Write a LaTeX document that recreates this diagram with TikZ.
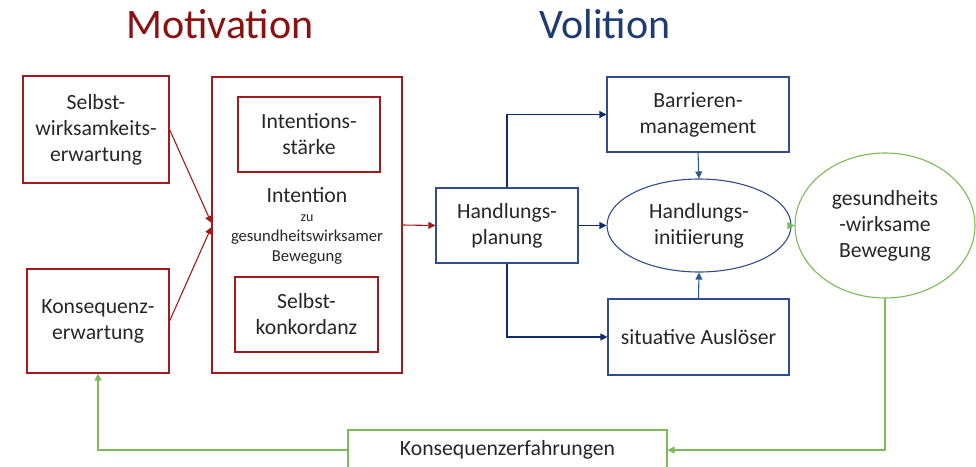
\documentclass[tikz,border=0pt]{standalone}
\usepackage{fontspec}
\setmainfont{Carlito}
\usetikzlibrary{arrows.meta,shapes.geometric}

\definecolor{motred}{HTML}{8B1010}
\definecolor{boxred}{HTML}{A01C1C}
\definecolor{volblue}{HTML}{1F3B73}
\definecolor{boxblue}{HTML}{2F4D8A}
\definecolor{arrblue}{HTML}{0F2C6E}
\definecolor{lightblue}{HTML}{2E5C8A}
\definecolor{grn}{HTML}{7DB957}
\definecolor{txt}{HTML}{262626}

\tikzset{
  lbl/.style={text=txt, align=center, font=\fontsize{21.7}{26}\selectfont},
  rbox/.style={lbl, draw=boxred, line width=1.1pt, inner sep=0pt},
  bbox/.style={lbl, draw=boxblue, line width=1.1pt, inner sep=0pt},
  gbox/.style={lbl, draw=grn, line width=1.1pt, inner sep=0pt},
  tip/.style={-{Triangle[length=7pt,width=7pt]}, line width=1.1pt},
}

\begin{document}
\begin{tikzpicture}[x=1pt,y=-1pt]
  \useasboundingbox (0,0) rectangle (976,466);
  % titles
  \node[anchor=base, text=motred, font=\fontsize{42}{50}\selectfont] (motiv) at (220,38) {Motivation};
  \node[anchor=base, text=volblue, font=\fontsize{42}{50}\selectfont] (voli) at (605,38) {Volition};
  % motivation side
  \node[rbox, minimum width=146pt, minimum height=107pt] (swe) at (96,129.5) {Selbst-\\wirksamkeits-\\erwartung};
  \node[rbox, minimum width=142pt, minimum height=104pt] (kew) at (98,321) {Konsequenz-\\erwartung};
  \node[rbox, minimum width=190pt, minimum height=296pt] (int) at (307,225) {};
  \node[rbox, minimum width=142pt, minimum height=75pt] (ist) at (309,134.5) {Intentions-\\stärke};
  \node[rbox, minimum width=143pt, minimum height=75pt] (sko) at (306.5,314.5) {Selbst-\\konkordanz};
  \node[lbl, anchor=base] (intlbl) at (307,202) {Intention};
  \node[lbl, inner sep=0pt, font=\fontsize{16.6}{20}\selectfont] (intsub) at (307,240)
    {{\fontsize{14}{20}\selectfont zu}\\gesundheitswirksamer\\Bewegung};
  % volition side
  \node[bbox, minimum width=142pt, minimum height=75pt] (hpl) at (507,225.5) {Handlungs-\\planung};
  \node[bbox, minimum width=182pt, minimum height=75pt] (bam) at (698,114.5) {Barrieren-\\management};
  \node[bbox, ellipse, minimum width=184pt, minimum height=93pt] (hin) at (699,225.5) {Handlungs-\\initiierung};
  \node[bbox, minimum width=181pt, minimum height=76pt] (sit) at (698.5,337) {situative Auslöser};
  \node[gbox, ellipse, minimum width=180pt, minimum height=145pt] (gwb) at (885,225.5) {gesundheits\\-wirksame\\Bewegung};
  \node[gbox, minimum width=319pt, minimum height=40pt] (kef) at (507.5,450) {Konsequenzerfahrungen};
  % connectors
  \draw[tip, boxred] (swe.east) -- ([yshift=2pt]int.west);
  \draw[tip, boxred] (kew.east) -- ([yshift=-2pt]int.west);
  \draw[tip, boxred] (int.east) -- (hpl.west);
  \draw[tip, arrblue] (hpl.north) |- (bam.west);
  \draw[tip, arrblue] (hpl.east) -- (hin.west);
  \draw[tip, arrblue] (hpl.south) |- (sit.west);
  \draw[tip, lightblue] (bam.south) -- (hin.north);
  \draw[tip, lightblue] (sit.north) -- (hin.south);
  \draw[tip, grn] (hin.east) -- (gwb.west);
  \draw[tip, grn] (gwb.south) |- (kef.east);
  \draw[tip, grn] (kef.west) -| (kew.south);
\end{tikzpicture}
\end{document}
